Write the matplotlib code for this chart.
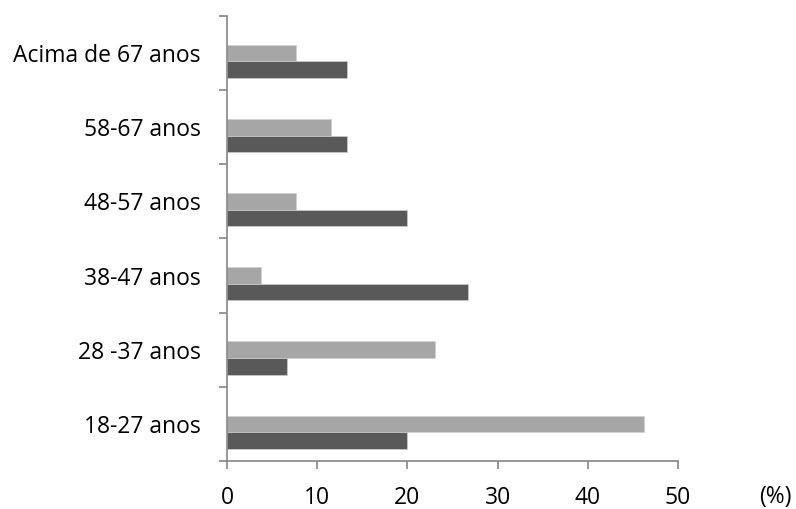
import matplotlib
matplotlib.use("Agg")
import matplotlib.pyplot as plt
import numpy as np

# Age groups, bottom to top
categories = ["18-27 anos", "28 -37 anos", "38-47 anos", "48-57 anos", "58-67 anos", "Acima de 67 anos"]
light_values = [46.2, 23.1, 3.8, 7.7, 11.5, 7.7]
dark_values = [20.0, 6.7, 26.7, 20.0, 13.3, 13.3]
x_ticks = [0, 10, 20, 30, 40, 50]

plt.rcParams["font.family"] = ["Open Sans", "DejaVu Sans"]
FS = 16.5

fig = plt.figure(figsize=(7.96, 5.09), dpi=100)
ax = fig.add_axes([0.2852, 0.0943, 0.8518 - 0.2852, 0.9686 - 0.0943])

y = np.arange(len(categories))
h = 0.223
ax.barh(y, light_values, height=h, color="#A6A6A6", edgecolor="#D0D0D0", linewidth=0.6)
ax.barh(y - h, dark_values, height=h, color="#595959", edgecolor="#C8C8C8", linewidth=0.6)

ax.set_xlim(0, 50)
ax.set_ylim(-0.5, len(categories) - 0.5)
ax.set_xticks(x_ticks)
ax.set_xticklabels([str(t) for t in x_ticks], fontsize=FS)
ax.set_yticks(y)
ax.set_yticklabels(categories, fontsize=FS)
ax.set_yticks(np.arange(-0.5, len(categories), 1.0), minor=True)

axis_color = "#868686"
for side in ("top", "right"):
    ax.spines[side].set_visible(False)
for side in ("left", "bottom"):
    ax.spines[side].set_color(axis_color)
    ax.spines[side].set_linewidth(1.2)

ax.tick_params(axis="y", which="major", length=0, pad=19)
ax.tick_params(axis="y", which="minor", length=6, width=1.2, color=axis_color)
ax.tick_params(axis="x", which="major", length=6, width=1.2, color=axis_color, pad=12)

# unit label, positioned in figure pixels (origin bottom-left)
fig.text(775 / 796, 1 - 497 / 509, "(%)", fontsize=FS, ha="center", va="center")

fig.savefig("out.png", dpi=100)
